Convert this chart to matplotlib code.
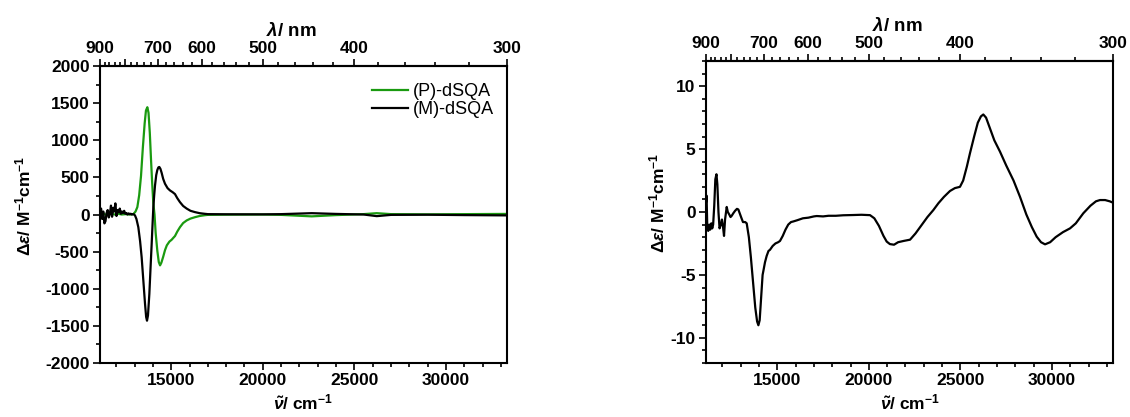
import matplotlib
matplotlib.use("Agg")
import matplotlib.pyplot as plt
from matplotlib.ticker import MultipleLocator, FixedLocator

plt.rcParams['font.family'] = ['Liberation Sans', 'DejaVu Sans']
plt.rcParams['axes.unicode_minus'] = False
plt.rcParams['mathtext.fontset'] = 'custom'
plt.rcParams['mathtext.rm'] = 'Liberation Sans:bold'
plt.rcParams['mathtext.bf'] = 'Liberation Sans:bold'
plt.rcParams['mathtext.it'] = 'Liberation Sans:italic:bold'

# ---- CD spectra of the two enantiomers (wavenumber / cm^-1, delta-epsilon / M^-1 cm^-1)
p_wn = [11111, 11300, 11500, 11700, 11900, 12100, 12300, 12500, 12700, 12800,
        12930, 13050, 13150, 13250, 13350, 13450, 13550, 13620, 13695, 13760,
        13830, 13900, 13960, 14020, 14087, 14150, 14241, 14320, 14390, 14460,
        14560, 14660, 14760, 14900, 15023, 15130, 15205, 15330, 15478, 15650,
        15842, 16050, 16298, 16550, 16844, 17000, 18000, 20000, 21000, 22670,
        24000, 25500, 26220, 27000, 29000, 31000, 33333]
p_de = [0, 10, -10, 15, 0, 10, 0, 5, 0, 0,
        5, 40, 100, 260, 520, 900, 1230, 1400, 1445, 1370,
        1100, 720, 420, 160, 0, -250, -490, -640, -685, -650,
        -570, -480, -415, -365, -340, -310, -290, -230, -170, -115,
        -80, -55, -36, -20, -9, -5, -2, 0, -5, -25,
        -8, 5, 18, 5, 2, 5, 8]

m_wn = [11111, 11170, 11230, 11290, 11350, 11410, 11470, 11530, 11590, 11650,
        11710, 11770, 11830, 11890, 11950, 12010, 12070, 12130, 12190, 12250,
        12310, 12370, 12430, 12490, 12550, 12610, 12670, 12730, 12790, 12850,
        12910, 12970, 13022, 13100, 13203, 13300, 13385, 13480, 13568, 13630,
        13677, 13730, 13805, 13870, 13932, 13980, 14023, 14070, 14114, 14180,
        14241, 14300, 14350, 14410, 14478, 14560, 14660, 14800, 14933, 15080,
        15205, 15330, 15478, 15650, 15842, 16050, 16298, 16550, 16844, 17000,
        18000, 20000, 21000, 22670, 24000, 25500, 26220, 27000, 29000, 31000,
        33333]
m_de = [10, 80, -60, 40, -120, -90, 20, 60, -40, 10,
        120, -30, 90, 40, 150, -20, 60, 30, 80, 10,
        40, 20, 50, 10, 20, 0, 15, 5, 10, 0,
        5, 0, -13, -60, -171, -360, -576, -900, -1200, -1380,
        -1430, -1360, -1070, -720, -396, -130, 99, 260, 390, 530,
        600, 635, 640, 615, 560, 480, 414, 355, 324, 300,
        275, 220, 166, 115, 80, 50, 32, 18, 9, 5,
        3, 2, 5, 18, 8, 0, -22, -5, -3, -8,
        -12]

# ---- second spectrum (right panel)
r_wn = [11111, 11140, 11180, 11230, 11290, 11340, 11400, 11450, 11500, 11560,
        11620, 11680, 11730, 11790, 11850, 11920, 11980, 12040, 12094, 12150,
        12241, 12300, 12380, 12450, 12514, 12600, 12700, 12800, 12876, 12950,
        13050, 13130, 13250, 13332, 13450, 13560, 13680, 13800, 13900, 13970,
        14040, 14120, 14200, 14240, 14330, 14420, 14520, 14605, 14750, 14900,
        15050, 15150, 15300, 15450, 15600, 15750, 15880, 16100, 16400, 16700,
        17000, 17155, 17500, 17800, 18200, 18600, 19155, 19600, 20065, 20300,
        20550, 20800, 20975, 21150, 21375, 21600, 21900, 22250, 22550, 22900,
        23200, 23520, 23800, 24100, 24430, 24700, 24975, 25150, 25350, 25520,
        25750, 25950, 26120, 26250, 26400, 26600, 26850, 27160, 27500, 27900,
        28255, 28600, 28900, 29165, 29400, 29620, 29900, 30200, 30600, 30985,
        31300, 31710, 32100, 32400, 32620, 32900, 33150, 33333]
r_de = [0.8, 1.3, -1.2, -1.5, -1.0, -1.4, -0.9, -1.3, -1.0, 0.5,
        2.6, 3.0, 2.2, 0.0, -1.3, -1.0, -0.6, -1.2, -1.9, -0.6,
        0.4, 0.0, -0.2, -0.4, -0.3, -0.1, 0.1, 0.25, 0.2, -0.1,
        -0.5, -0.8, -0.8, -0.9, -2.0, -3.6, -5.6, -7.6, -8.7, -9.0,
        -8.6, -6.8, -5.0, -4.7, -4.0, -3.5, -3.1, -3.0, -2.7, -2.5,
        -2.4, -2.3, -1.9, -1.4, -1.0, -0.8, -0.75, -0.65, -0.5, -0.45,
        -0.35, -0.32, -0.35, -0.3, -0.3, -0.26, -0.24, -0.22, -0.25, -0.5,
        -1.1, -1.9, -2.35, -2.55, -2.6, -2.4, -2.3, -2.2, -1.7, -1.0,
        -0.4, 0.15, 0.7, 1.2, 1.67, 1.9, 2.0, 2.5, 3.6, 4.66,
        6.0, 7.1, 7.6, 7.75, 7.5, 6.7, 5.7, 4.8, 3.7, 2.5,
        1.2, -0.2, -1.2, -1.96, -2.4, -2.57, -2.4, -2.0, -1.6, -1.3,
        -0.9, -0.1, 0.5, 0.85, 0.95, 0.95, 0.85, 0.74]

wn_range = (1e7 / 900, 1e7 / 300)
nm_major = [900, 800, 700, 600, 500, 400, 300]
nm_labels = ['900', '', '700', '600', '500', '400', '300']
nm_minor = list(range(300, 901, 20))

TICK_FS = 12.5
LABEL_FS = 12.5

fig = plt.figure(figsize=(11.3, 4.17), dpi=100)
ax1 = fig.add_axes([0.0885, 0.1295, 0.3602, 0.7122])
ax2 = fig.add_axes([0.6248, 0.1295, 0.3602, 0.7242])


def style_axes(ax, ylabel_x):
    for s in ax.spines.values():
        s.set_linewidth(1.5)
    ax.set_xlim(*wn_range)
    ax.xaxis.set_major_locator(MultipleLocator(5000))
    ax.xaxis.set_minor_locator(MultipleLocator(1000))
    ax.tick_params(which='both', direction='out', width=1.2, top=False, right=False)
    ax.tick_params(which='major', length=5, pad=2.5)
    ax.tick_params(which='minor', length=3)
    for lab in ax.get_xticklabels() + ax.get_yticklabels():
        lab.set_fontsize(TICK_FS)
        lab.set_fontweight('bold')
    ax.set_xlabel(r'$\tilde{\mathit{ν}}$/ cm$^{-1}$', fontsize=LABEL_FS,
                  fontweight='bold', labelpad=3)
    ax.set_ylabel(r'$\mathit{Δε}$/ M$^{-1}$cm$^{-1}$', fontsize=LABEL_FS,
                  fontweight='bold')
    ax.yaxis.set_label_coords(ylabel_x, 0.53)

    sec = ax.secondary_xaxis('top', functions=(lambda x: 1e7 / x, lambda x: 1e7 / x))
    sec.xaxis.set_major_locator(FixedLocator(nm_major))
    sec.xaxis.set_minor_locator(FixedLocator(nm_minor))
    sec.set_xticklabels(nm_labels)
    sec.tick_params(which='both', direction='out', width=1.2, pad=2)
    sec.tick_params(which='major', length=5)
    sec.tick_params(which='minor', length=3)
    for lab in sec.get_xticklabels():
        lab.set_fontsize(TICK_FS)
        lab.set_fontweight('bold')
    sec.spines['top'].set_linewidth(1.5)
    sec.set_xlabel(r'$\mathit{λ}$/ nm', fontsize=13.5, fontweight='bold', labelpad=4)
    sec.xaxis.label.set_x(0.47)
    return sec


# left panel
ax1.plot(p_wn, p_de, color='#1a9a10', lw=1.6, label='(P)-dSQA')
ax1.plot(m_wn, m_de, color='black', lw=1.6, label='(M)-dSQA')
ax1.set_ylim(-2000, 2000)
ax1.yaxis.set_major_locator(MultipleLocator(500))
ax1.yaxis.set_minor_locator(MultipleLocator(250))
style_axes(ax1, -0.163)
ax1.legend(loc='upper right', frameon=False, fontsize=13, handlelength=2.0,
           handletextpad=0.3, labelspacing=0.05, borderaxespad=0.3,
           bbox_to_anchor=(1.0, 0.985))

# right panel
ax2.plot(r_wn, r_de, color='black', lw=1.6)
ax2.set_ylim(-12, 12)
ax2.yaxis.set_major_locator(MultipleLocator(5))
ax2.yaxis.set_minor_locator(MultipleLocator(1))
style_axes(ax2, -0.095)

fig.savefig('out.png', dpi=100)
